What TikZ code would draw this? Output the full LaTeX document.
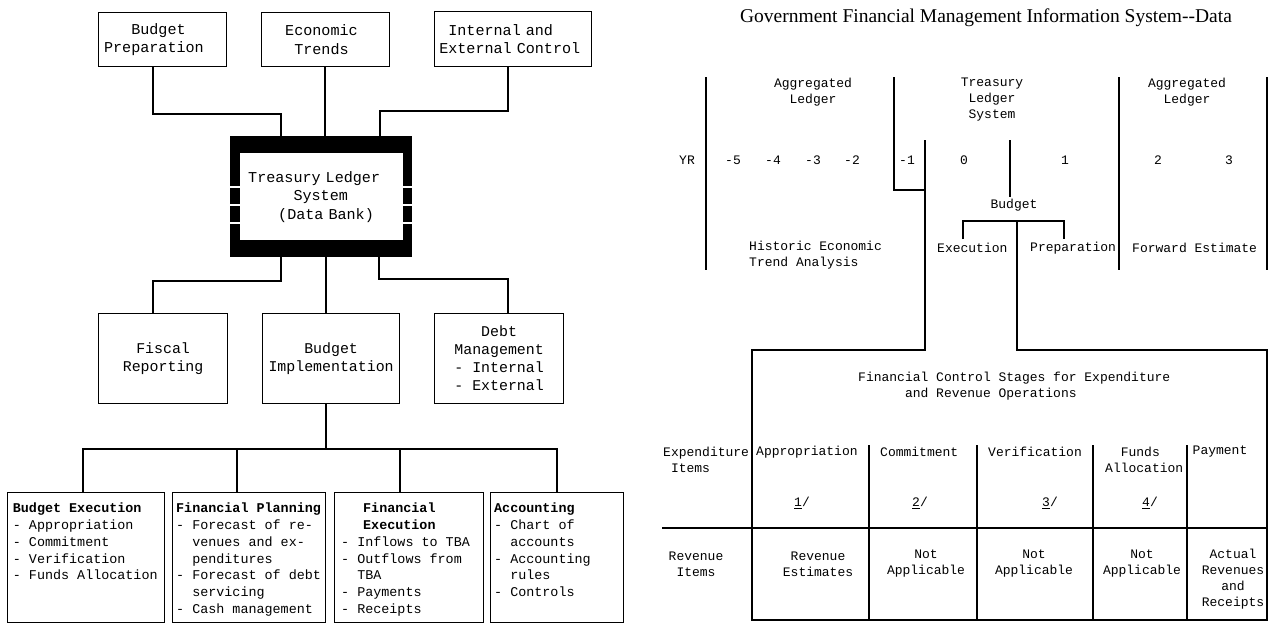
\documentclass[tikz,border=0pt]{standalone}
\usepackage{fontspec}
\setmainfont{Liberation Serif}
\newfontfamily\cour{Liberation Mono}
\newcommand\ftop{\cour\fontsize{15.1}{18.5}\selectfont}
\newcommand\fmid{\cour\fontsize{14.9}{18}\selectfont}
\newcommand\fbot{\cour\fontsize{13.4}{16.7}\selectfont}
\newcommand\frt{\cour\fontsize{13}{16}\selectfont}
\newcommand\fttl{\fontsize{19.5}{22}\selectfont}
\begin{document}
\begin{tikzpicture}[x=1pt,y=-1pt,
  ln/.style={line width=1.2pt},
  tbox/.style={draw, line width=1.2pt, anchor=north west, align=left, font=\ftop, inner ysep=0pt},
  mbox/.style={draw, line width=1.2pt, anchor=north west, align=center, font=\fmid, inner sep=0pt},
  bbox/.style={draw, line width=1.2pt, anchor=north west, inner sep=0pt, minimum height=130pt},
  btxt/.style={anchor=north west, align=left, font=\fbot, inner sep=0pt},
  rt/.style={font=\frt, inner sep=0pt, align=center},
  gap/.style={white, line width=1.6pt},
]
\useasboundingbox (0,0) rectangle (1269,624);

% ---------------- left diagram ----------------
\node[tbox, text width=117pt, inner xsep=5.5pt, minimum height=54pt] (bp) at (98,12) {\phantom{Pre}Budget\\Preparation};
\node[tbox, text width=80.8pt, inner xsep=23.6pt, minimum height=54pt] (et) at (261,12) {Economic\\\phantom{E}Trends};
\node[tbox, text width=147.6pt, inner xsep=4.7pt, minimum height=55pt] (iec) at (434,11) {\phantom{E}Internal and\\External Control};

\node[fill=black, anchor=north west, minimum width=182pt, minimum height=121pt, inner sep=0pt] (tls) at (230,136) {};
\node[fill=white, anchor=north west, minimum height=87pt, text width=147pt, inner xsep=8pt, inner ysep=0pt, align=left, font=\ftop] (tlsin) at (240,153) {Treasury Ledger\\\phantom{Treas}System\\\hspace*{30pt}(Data Bank)};
\foreach \yy in {187,205,223} {
  \draw[gap] (tls.west |- 0,\yy) -- (tlsin.west |- 0,\yy);
  \draw[gap] (tlsin.east |- 0,\yy) -- (tls.east |- 0,\yy);
}

\node[mbox, minimum width=129pt, minimum height=90pt] (fr) at (98,313) {Fiscal\\Reporting};
\node[mbox, minimum width=137pt, minimum height=90pt] (bi) at (262,313) {Budget\\Implementation};
\node[mbox, minimum width=129pt, minimum height=90pt] (dm) at (434,313) {Debt\\Management\\- Internal\\- External};

\node[bbox, minimum width=157pt] (be) at (7,492) {};
\node[bbox, minimum width=153pt] (fp) at (172,492) {};
\node[bbox, minimum width=149pt] (fe) at (334,492) {};
\node[bbox, minimum width=133pt] (ac) at (490,492) {};

\node[btxt] (be-t) at ([xshift=5.7pt,yshift=-11pt]be.north west) {\textbf{Budget Execution}\\- Appropriation\\- Commitment\\- Verification\\- Funds Allocation};
\node[btxt] (fp-t) at ([xshift=4pt,yshift=-11pt]fp.north west) {\textbf{Financial Planning}\\- Forecast of re-\\\phantom{xx}venues and ex-\\\phantom{xx}penditures\\- Forecast of debt\\\phantom{xx}servicing\\- Cash management};
\node[btxt] (fe-t) at ([xshift=7pt,yshift=-11pt]fe.north west) {\hspace*{22pt}\textbf{Financial}\\\hspace*{22pt}\textbf{Execution}\\- Inflows to TBA\\- Outflows from\\\phantom{xx}TBA\\- Payments\\- Receipts};
\node[btxt] (ac-t) at ([xshift=4pt,yshift=-11pt]ac.north west) {\textbf{Accounting}\\- Chart of\\\phantom{xx}accounts\\- Accounting\\\phantom{xx}rules\\- Controls};

% connectors
\draw[ln] (bp.south -| 153,0) |- (281,114) -- (tls.north -| 281,0);
\draw[ln] (et.south -| 325,0) -- (tls.north -| 325,0);
\draw[ln] (iec.south -| 508,0) |- (380,111) -- (tls.north -| 380,0);
\draw[ln] (tls.south -| 281,0) |- (153,281) -- (fr.north -| 153,0);
\draw[ln] (tls.south -| 326,0) -- (bi.north -| 326,0);
\draw[ln] (tls.south -| 379,0) |- (508,279) -- (dm.north -| 508,0);
\coordinate (bus) at (326,449);
\draw[ln] (bi.south -| 326,0) -- (bus);
\draw[ln] (be.north -| 83,0) |- (bus);
\draw[ln] (fp.north -| 237,0) |- (bus);
\draw[ln] (fe.north -| 400,0) |- (bus);
\draw[ln] (ac.north -| 557,0) |- (bus);

% ---------------- right diagram ----------------
\node[font=\fttl, inner sep=0pt] (title) at (986,18) {Government Financial Management Information System-\kern0pt-Data};

\node[rt] (agl) at (813,92) {Aggregated\\Ledger};
\node[rt] (tlsh) at (992,100) {Treasury\\Ledger\\System};
\node[rt] (agr) at (1187,92) {Aggregated\\Ledger};

\node[rt] (yr) at (687,160) {YR};
\node[rt] (ym5) at (733,160) {-5};
\node[rt] (ym4) at (773,160) {-4};
\node[rt] (ym3) at (813,160) {-3};
\node[rt] (ym2) at (852,160) {-2};
\node[rt] (ym1) at (907,160) {-1};
\node[rt] (y0) at (964,160) {0};
\node[rt] (y1) at (1065,160) {1};
\node[rt] (y2) at (1158,160) {2};
\node[rt] (y3) at (1229,160) {3};

\node[rt, inner sep=2pt] (bud) at (1014,205) {Budget};
\node[rt, align=left, anchor=west] (hist) at (749,255.5) {Historic Economic\\Trend Analysis};
\node[rt, anchor=west] (exe) at (937,248) {Execution};
\node[rt, anchor=west] (prep) at (1030,248) {Preparation};
\node[rt, anchor=west] (fwd) at (1132,248) {Forward Estimate};

\draw[ln] (706,77) -- (706,270);
\draw[ln] (894,77) -- (894,190) -- (925,190);
\draw[ln] (1119,77) -- (1119,270);
\draw[ln] (1267,77) -- (1267,270);
\draw[ln] (1010,140) -- (bud.north -| 1010,0);
\draw[ln] (963,239) |- (1064,221) -- (1064,239);
\draw[ln] (925,140) -- (925,350) -- (752,350) -- (752,620) -- (1267,620) -- (1267,350) -- (1017,350) -- (1017,221);

\draw[ln] (662,528) -- (1267,528);
\foreach \xx in {869,977,1093,1187} \draw[ln] (\xx,445) -- (\xx,620);

\node[rt, align=left, anchor=west] (fcs) at (858,386) {Financial Control Stages for Expenditure\\\phantom{xxxxxx}and Revenue Operations};
\node[rt, align=left, anchor=west] (expi) at (663,459.5) {Expenditure\\\phantom{x}Items};
\node[rt, anchor=west] (appr) at (756,452) {Appropriation};
\node[rt, anchor=west] (comm) at (880,452) {Commitment};
\node[rt, anchor=west] (veri) at (988,452) {Verification};
\node[rt, align=left, anchor=west] (funds) at (1105,459.5) {\phantom{xx}Funds\\Allocation};
\node[rt] (pay) at (1220,452) {Payment};
\node[rt] (n1) at (802,503) {\underline{1}/};
\node[rt] (n2) at (920,503) {\underline{2}/};
\node[rt] (n3) at (1050,503) {\underline{3}/};
\node[rt] (n4) at (1150,503) {\underline{4}/};

\node[rt] (revi) at (696,564) {Revenue\\Items};
\node[rt] (reve) at (818,564) {Revenue\\Estimates};
\node[rt] (na1) at (926,564) {Not\\Applicable};
\node[rt] (na2) at (1034,564) {Not\\Applicable};
\node[rt] (na3) at (1142,564) {Not\\Applicable};
\node[rt] (act) at (1233,579.5) {Actual\\Revenues\\and\\Receipts};
\end{tikzpicture}
\end{document}
